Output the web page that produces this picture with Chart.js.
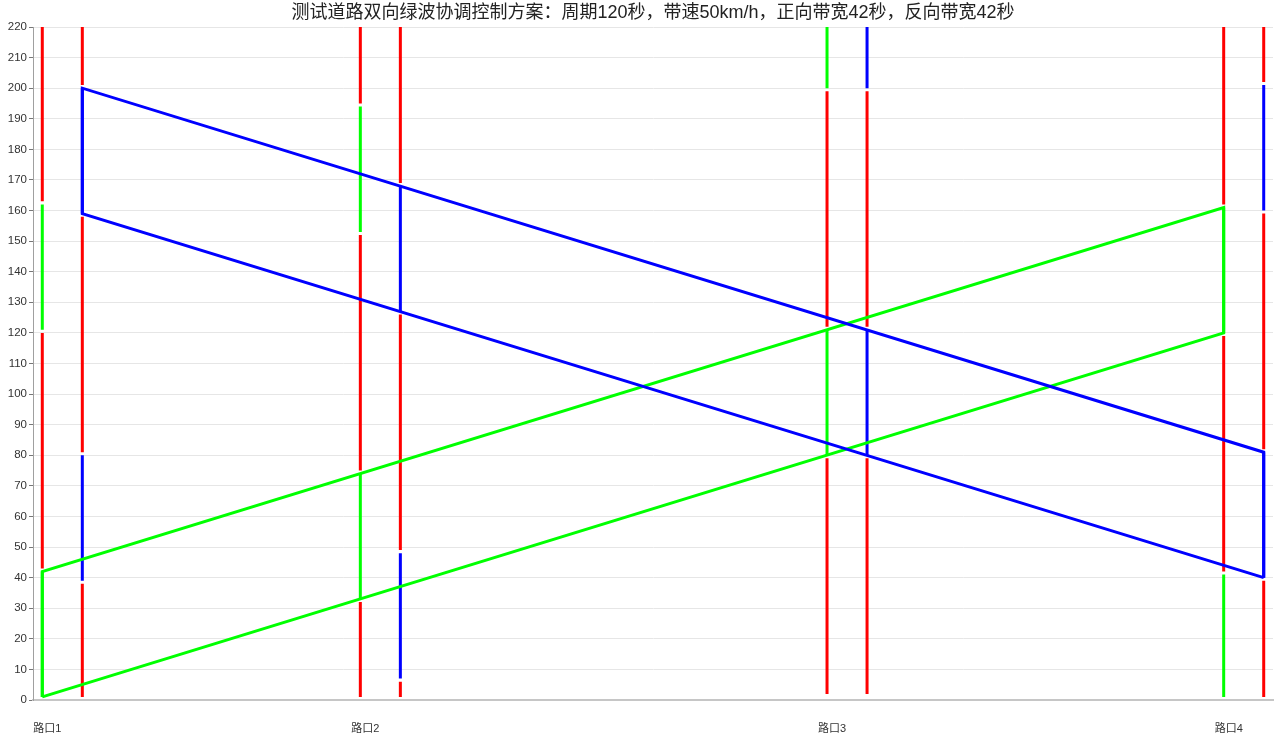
<!DOCTYPE html>
<html>
<head>
<meta charset="utf-8">
<script src="https://cdn.jsdelivr.net/npm/chart.js@4.4.0/dist/chart.umd.min.js"></script>
<style>
  html, body { margin: 0; padding: 0; background: #ffffff; }
  #wrap { width: 1279px; height: 741px; position: relative; }
</style>
</head>
<body>
<div id="wrap"><canvas id="c"></canvas></div>
<script>
// ---- data (distance in metres along the road, time in seconds) ----
const titleText = '测试道路双向绿波协调控制方案：周期120秒，带速50km/h，正向带宽42秒，反向带宽42秒';
const intersectionNames = ['路口1', '路口2', '路口3', '路口4'];
const intersectionLabelDist = [7, 452, 1105, 1660];
// stop lines: [forward, reverse] for each intersection
const stopLineDist = [0, 56, 445, 501, 1098, 1154, 1653, 1709];

// signal phases: [stopLineIndex, startTime, endTime]
const redSegments = [
  [0, 43, 120], [0, 163, 220],
  [1, 1, 38], [1, 81, 158], [1, 201, 220],
  [2, 1, 32], [2, 75, 152], [2, 195, 220],
  [3, 1, 6], [3, 49, 126], [3, 169, 220],
  [4, 2, 79], [4, 122, 199],
  [5, 2, 79], [5, 122, 199],
  [6, 42, 119], [6, 162, 220],
  [7, 1, 39], [7, 82, 159], [7, 202, 220]
];
const greenSegments = [
  [0, 1, 42], [0, 121, 162],
  [2, 33, 74], [2, 153, 194],
  [4, 80, 121], [4, 200, 220],
  [6, 1, 41], [6, 120, 161]
];
const blueSegments = [
  [1, 39, 80], [1, 159, 200],
  [3, 7, 48], [3, 127, 168],
  [5, 80, 121], [5, 200, 220],
  [7, 40, 81], [7, 160, 201]
];

// green-wave bands: [distance, time]
const forwardBand = [[0, 1], [1653, 120], [1653, 161], [0, 42], [0, 1]];
const reverseBand = [[1709, 40], [56, 159], [56, 200], [1709, 81], [1709, 40]];

const yTicksMax = 220;
const yTickStep = 10;

// ---- build datasets ----
function segPoints(segs) {
  const pts = [];
  segs.forEach(s => {
    const x = stopLineDist[s[0]];
    pts.push({ x: x, y: s[1] });
    pts.push({ x: x, y: s[2] });
    pts.push({ x: x, y: null });
  });
  return pts;
}
function bandPoints(band) {
  return band.map(p => ({ x: p[0], y: p[1] }));
}
const common = { pointRadius: 0, pointHoverRadius: 0, borderWidth: 3, fill: false, tension: 0, spanGaps: false, borderCapStyle: 'butt' };

const datasets = [
  Object.assign({ label: '反向绿波带', data: bandPoints(reverseBand), borderColor: '#0000ff' }, common),
  Object.assign({ label: '正向绿波带', data: bandPoints(forwardBand), borderColor: '#00ff00' }, common),
  Object.assign({ label: '反向绿灯', data: segPoints(blueSegments), borderColor: '#0000ff' }, common),
  Object.assign({ label: '正向绿灯', data: segPoints(greenSegments), borderColor: '#00ff00' }, common),
  Object.assign({ label: '红灯', data: segPoints(redSegments), borderColor: '#ff0000' }, common)
];

const fontFamily = '"Liberation Sans", Arial, "Noto Sans CJK SC", sans-serif';

new Chart(document.getElementById('c'), {
  type: 'line',
  data: { datasets: datasets },
  options: {
    responsive: true,
    maintainAspectRatio: false,
    animation: false,
    layout: { padding: { left: 0, right: 6, top: 0, bottom: 0 } },
    plugins: {
      legend: { display: false },
      tooltip: { enabled: false },
      title: {
        display: true,
        text: titleText,
        fullSize: false,
        color: '#222',
        font: { family: fontFamily, size: 18, weight: 'normal', lineHeight: 1.2 },
        padding: { top: 2, bottom: 3.4 }
      }
    },
    scales: {
      x: {
        type: 'linear',
        min: -13,
        max: 1722,
        grid: { display: true, color: 'rgba(0,0,0,0)', drawTicks: false },
        border: { display: true, color: '#c6c6c6', width: 2 },
        afterBuildTicks: (axis) => { axis.ticks = intersectionLabelDist.map(v => ({ value: v })); },
        afterFit: (scale) => { scale.height = 41; },
        ticks: {
          autoSkip: false,
          maxRotation: 0,
          padding: 22,
          color: '#333',
          font: { family: fontFamily, size: 11 },
          callback: (value) => {
            const i = intersectionLabelDist.indexOf(value);
            return i >= 0 ? intersectionNames[i] : '';
          }
        }
      },
      y: {
        type: 'linear',
        min: 0,
        max: yTicksMax,
        afterFit: (scale) => { scale.width = 33; },
        grid: { color: '#e6e6e6', tickColor: '#777', tickLength: 4, lineWidth: 1 },
        border: { display: true, color: '#a0a0a0', width: 1 },
        ticks: {
          stepSize: yTickStep,
          padding: 2,
          color: '#333',
          font: { family: fontFamily, size: 11.5 }
        }
      }
    }
  }
});
</script>
</body>
</html>
